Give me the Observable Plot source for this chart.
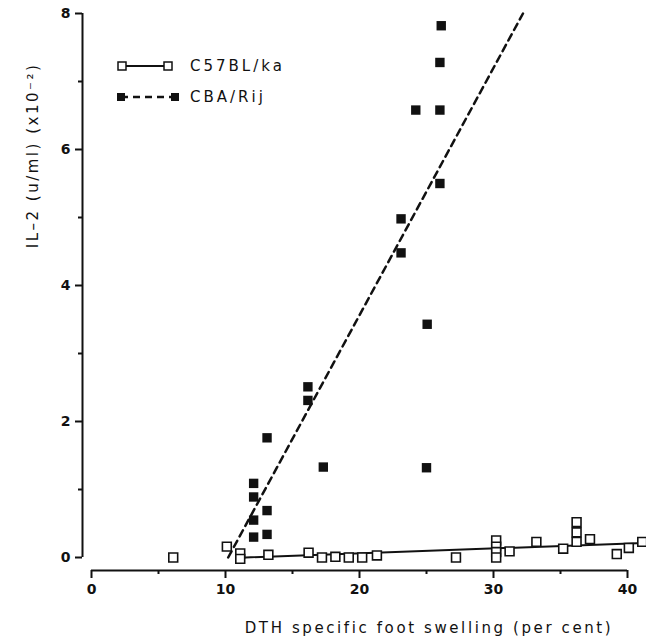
<!DOCTYPE html>
<html><head><meta charset="utf-8">
<script src="https://cdn.jsdelivr.net/npm/d3@7"></script>
<script src="https://cdn.jsdelivr.net/npm/@observablehq/plot@0.6"></script>
<style>
body{margin:0;background:#fff;}
#wrap{position:relative;width:646px;height:638px;font-family:"DejaVu Sans",sans-serif;color:#111;}
#legend{position:absolute;left:0;top:0;pointer-events:none;}
</style></head><body><div id="wrap"></div>
<script>
// C57BL/ka (open squares)
const c57X = [6.1, 10.1, 11.1, 11.1, 13.2, 16.2, 17.2, 18.2, 19.2, 20.2, 21.3, 27.2, 30.2, 30.2, 30.2, 30.2, 31.2, 33.2, 35.2, 36.2, 36.2, 36.2, 37.2, 39.2, 40.1, 41.1];
const c57Y = [0.0, 0.16, 0.06, -0.02, 0.04, 0.07, 0.0, 0.01, 0.0, 0.0, 0.03, 0.0, 0.25, 0.16, 0.08, 0.0, 0.09, 0.23, 0.13, 0.52, 0.37, 0.23, 0.27, 0.05, 0.14, 0.23];
// CBA/Rij (filled squares)
const cbaX = [12.1, 12.1, 12.1, 12.1, 13.1, 13.1, 13.1, 16.15, 16.15, 17.3, 23.1, 23.1, 24.2, 25.05, 25.0, 26.0, 26.1, 26.0, 26.0];
const cbaY = [1.09, 0.89, 0.55, 0.30, 1.76, 0.69, 0.34, 2.51, 2.31, 1.33, 4.98, 4.48, 6.58, 3.43, 1.32, 5.50, 7.82, 7.28, 6.58];
// fitted regression lines (end points)
const c57FitX = [11.5, 40.7];
const c57FitY = [0.0, 0.21];
const cbaFitX = [10.2, 32.2];
const cbaFitY = [0.0, 8.0];
// ticks
const xTicks = [0, 10, 20, 30, 40];
const xMinor = [5, 15, 25, 35];
const yTicks = [0, 2, 4, 6, 8];
const yMinor = [1, 3, 5, 7];
const seriesNames = ["C57BL/ka", "CBA/Rij"];
const xTitle = "DTH specific foot swelling (per cent)";
const yTitle = "IL–2 (u/ml) (x10⁻²)";

const c57 = c57X.map((x, i) => ({x, y: c57Y[i]}));
const cba = cbaX.map((x, i) => ({x, y: cbaY[i]}));
const c57Fit = c57FitX.map((x, i) => ({x, y: c57FitY[i]}));
const cbaFit = cbaFitX.map((x, i) => ({x, y: cbaFitY[i]}));
const ink = "#111";

const chart = Plot.plot({
  width: 646, height: 638,
  marginLeft: 82, marginRight: 19, marginTop: 13, marginBottom: 68,
  x: {domain: [xTicks[0], xTicks[xTicks.length - 1]], insetLeft: 9},
  y: {domain: [yTicks[0], yTicks[yTicks.length - 1]], insetBottom: 13},
  style: {fontFamily: "DejaVu Sans", background: "#fff", color: ink, overflow: "visible"},
  marks: [
    Plot.ruleY([yTicks[0]], {x1: xTicks[0], x2: xTicks[xTicks.length - 1], dy: 13, stroke: ink, strokeWidth: 2}),
    Plot.ruleX([xTicks[0]], {y1: yTicks[0], y2: yTicks[yTicks.length - 1], dx: -9, stroke: ink, strokeWidth: 2}),
    Plot.axisX(xTicks, {anchor: "bottom", tickSize: 8, tickPadding: 6, strokeWidth: 2, fontSize: 14, fontWeight: "bold", label: null, tickFormat: d => String(d)}),
    Plot.axisX(xMinor, {anchor: "bottom", tickSize: 4, strokeWidth: 2, text: null, label: null}),
    Plot.axisY(yTicks, {anchor: "left", tickSize: 7, tickPadding: 5, strokeWidth: 2, fontSize: 14, fontWeight: "bold", label: null, tickFormat: d => String(d)}),
    Plot.axisY(yMinor, {anchor: "left", tickSize: 4, strokeWidth: 2, text: null, label: null}),
    Plot.text([xTitle], {frameAnchor: "bottom", dx: 74, dy: 58, lineAnchor: "middle", textAnchor: "middle", fontSize: 15, fill: ink}),
    Plot.text([yTitle], {frameAnchor: "top-left", dx: -49, dy: 142, rotate: -90, lineAnchor: "middle", textAnchor: "middle", fontSize: 15, fill: ink}),
    Plot.line(c57Fit, {x: "x", y: "y", stroke: ink, strokeWidth: 2}),
    Plot.line(cbaFit, {x: "x", y: "y", stroke: ink, strokeWidth: 2.5, strokeDasharray: "7,5"}),
    Plot.dot(c57, {x: "x", y: "y", symbol: "square", r: 5, stroke: ink, strokeWidth: 1.6, fill: "#fff"}),
    Plot.dot(cba, {x: "x", y: "y", symbol: "square", r: 5.3, fill: ink, stroke: "none"})
  ]
});
// letter-spacing on titles
d3.select(chart).selectAll("text").filter(function(){ return this.textContent === xTitle; }).style("letter-spacing", "2.6px");
d3.select(chart).selectAll("text").filter(function(){ return this.textContent === yTitle; }).style("letter-spacing", "2.5px");
document.getElementById("wrap").appendChild(chart);

// legend overlay
const lg = d3.select("#wrap").append("svg").attr("id", "legend").attr("width", 646).attr("height", 638);
const rows = [
  {name: seriesNames[0], y: 66, x1: 122, x2: 168, dash: null, fill: "#fff"},
  {name: seriesNames[1], y: 97, x1: 121, x2: 175, dash: "7,5", fill: ink}
];
rows.forEach(r => {
  lg.append("line").attr("x1", r.x1).attr("x2", r.x2).attr("y1", r.y).attr("y2", r.y)
    .attr("stroke", ink).attr("stroke-width", r.dash ? 2.5 : 2).attr("stroke-dasharray", r.dash);
  [r.x1, r.x2].forEach(cx => {
    lg.append("rect").attr("x", cx - 4).attr("y", r.y - 4).attr("width", 8).attr("height", 8)
      .attr("fill", r.fill).attr("stroke", r.fill === ink ? "none" : ink).attr("stroke-width", 1.5);
  });
  lg.append("text").attr("x", 190).attr("y", r.y).attr("dy", "0.35em")
    .attr("font-family", "DejaVu Sans").attr("font-size", 15).attr("fill", ink)
    .style("letter-spacing", "3px").text(r.name);
});
</script>
</body></html>
